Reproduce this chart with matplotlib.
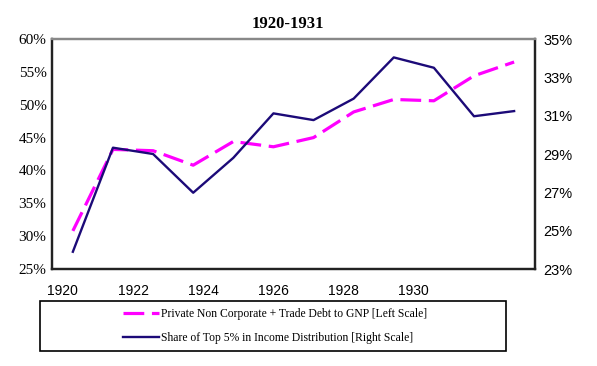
import matplotlib
matplotlib.use('Agg')
import matplotlib.pyplot as plt
from matplotlib.patches import Rectangle
from matplotlib.ticker import FuncFormatter

years = [1920, 1921, 1922, 1923, 1924, 1925, 1926, 1927, 1928, 1929, 1930, 1931]
debt_to_gnp = [30.8, 43.2, 43.0, 40.8, 44.4, 43.6, 45.0, 48.9, 50.8, 50.6, 54.4, 56.5]
top5_share = [23.9, 29.33, 29.0, 26.98, 28.8, 31.12, 30.77, 31.89, 34.04, 33.5, 30.97, 31.24]
tick_years = [1920, 1922, 1924, 1926, 1928, 1930]

debt_label = 'Private Non Corporate + Trade Debt to GNP [Left Scale]'
share_label = 'Share of Top 5% in Income Distribution [Right Scale]'

serif = ['Liberation Serif', 'DejaVu Serif']

fig = plt.figure(figsize=(5.97, 3.66), dpi=100)
ax = fig.add_axes([0.0871, 0.265, 0.809, 0.6284])
ax2 = ax.twinx()

idx = list(range(len(years)))
l1, = ax.plot(idx, debt_to_gnp, color='#ff00ff', lw=2.3, dashes=(6.5, 2.4))
l2, = ax2.plot(idx, top5_share, color='#1c0a78', lw=1.7)

ax.set_xlim(-0.52, 11.52)
ax.set_ylim(25, 60)
ax2.set_ylim(23, 35)
ax.set_yticks(range(25, 61, 5))
ax2.set_yticks(range(23, 36, 2))
pct = FuncFormatter(lambda v, p: f'{v:.0f}%')
ax.yaxis.set_major_formatter(pct)
ax2.yaxis.set_major_formatter(pct)

# Excel puts the year labels on its own spacing, not under the points
ax.set_xticks([-0.25 + 1.75 * k for k in range(len(tick_years))])
ax.set_xticklabels([str(y) for y in tick_years])
ax.tick_params(axis='x', length=0, pad=11, labelsize=10,
               labelfontfamily='Liberation Sans')
ax.tick_params(axis='y', length=0, pad=4, labelsize=11,
               labelfontfamily='Liberation Serif')
ax2.tick_params(axis='y', length=0, pad=6, labelsize=10.5,
                labelfontfamily='Liberation Sans')

for a in (ax, ax2):
    for s in a.spines.values():
        s.set_linewidth(1.6)
        s.set_color('#222222')
    a.spines['top'].set_color('#888888')

fig.text(288 / 597, 1 - 24 / 366, '1920-1931', ha='center', va='center',
         family=serif, fontsize=12, fontweight='bold')

fig.patches.append(Rectangle((40 / 597, 1 - 351 / 366), 466 / 597, 50 / 366,
                             transform=fig.transFigure, fill=False,
                             edgecolor='black', lw=1.2))
leg = fig.legend([l1, l2], [debt_label, share_label], loc='center',
                 bbox_to_anchor=(275 / 597, 1 - 326 / 366), frameon=False,
                 prop={'family': serif, 'size': 8.4}, handlelength=3.1,
                 handletextpad=0.1, labelspacing=1.0, borderaxespad=0)

fig.savefig('out.png', dpi=100)
